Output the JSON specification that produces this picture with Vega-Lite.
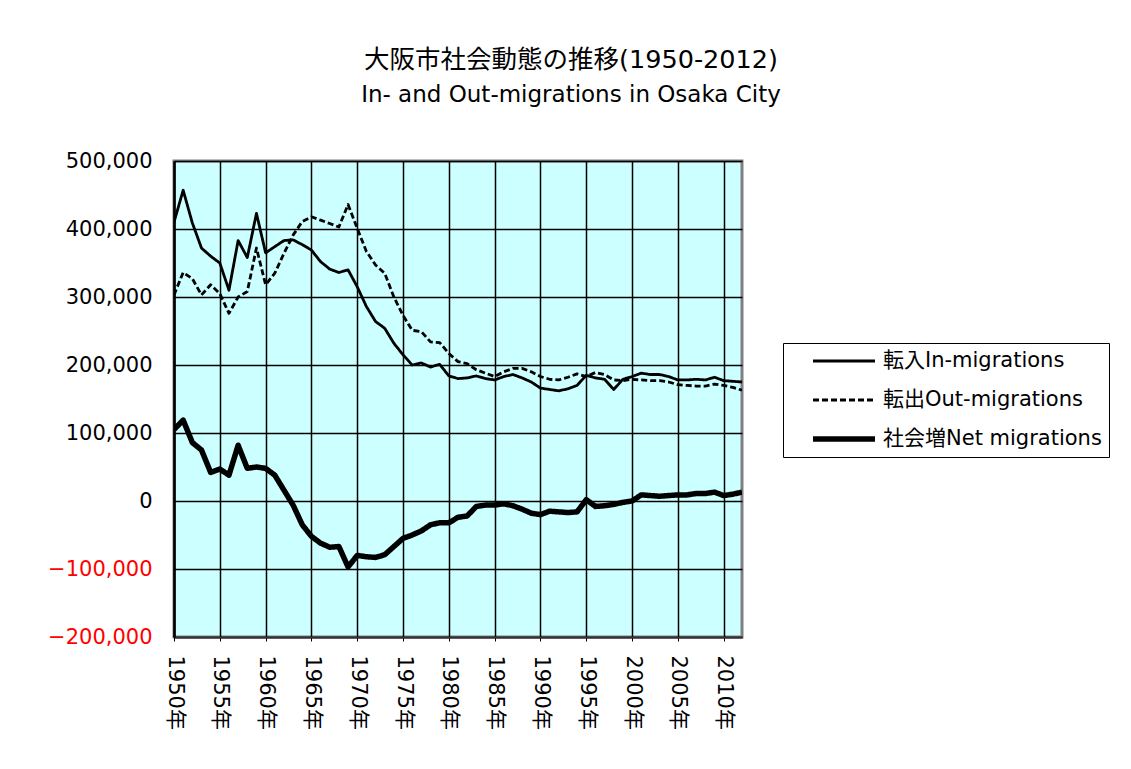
{
  "$schema": "https://vega.github.io/schema/vega-lite/v6.json",
  "width": 568,
  "height": 476,
  "autosize": {"type": "none"},
  "padding": {"left": 174, "top": 161, "right": 389, "bottom": 132},
  "background": "white",
  "title": {
    "text": "大阪市社会動態の推移(1950-2012)",
    "subtitle": "In- and Out-migrations in Osaka City",
    "anchor": "middle",
    "dx": 113,
    "offset": 43,
    "font": "DejaVu Sans, Noto Sans CJK JP",
    "fontSize": 25.5,
    "fontWeight": "normal",
    "color": "black",
    "subtitleFont": "DejaVu Sans, Noto Sans CJK JP",
    "subtitleFontSize": 23,
    "subtitleColor": "black",
    "subtitlePadding": 11
  },
  "config": {
    "view": {"fill": "#CCFFFF", "stroke": "#808080", "strokeWidth": 3},
    "font": "DejaVu Sans, Noto Sans CJK JP"
  },
  "data": {
    "values": [
      {"year": 1950, "in": 410000, "out": 303000, "net": 105000},
      {"year": 1951, "in": 457000, "out": 336000, "net": 119000},
      {"year": 1952, "in": 409000, "out": 327000, "net": 86000},
      {"year": 1953, "in": 372000, "out": 303000, "net": 75000},
      {"year": 1954, "in": 360000, "out": 318000, "net": 42000},
      {"year": 1955, "in": 350000, "out": 305000, "net": 47000},
      {"year": 1956, "in": 310000, "out": 276000, "net": 38000},
      {"year": 1957, "in": 383000, "out": 300000, "net": 82000},
      {"year": 1958, "in": 358000, "out": 308000, "net": 48000},
      {"year": 1959, "in": 423000, "out": 372000, "net": 50000},
      {"year": 1960, "in": 365000, "out": 318000, "net": 48000},
      {"year": 1961, "in": 374000, "out": 335000, "net": 38000},
      {"year": 1962, "in": 383000, "out": 364000, "net": 16000},
      {"year": 1963, "in": 384000, "out": 391000, "net": -6000},
      {"year": 1964, "in": 377000, "out": 411000, "net": -35000},
      {"year": 1965, "in": 369000, "out": 418000, "net": -52000},
      {"year": 1966, "in": 352000, "out": 413000, "net": -62000},
      {"year": 1967, "in": 341000, "out": 408000, "net": -68000},
      {"year": 1968, "in": 336000, "out": 403000, "net": -67000},
      {"year": 1969, "in": 340000, "out": 436000, "net": -97000},
      {"year": 1970, "in": 315000, "out": 401000, "net": -80000},
      {"year": 1971, "in": 286000, "out": 367000, "net": -82000},
      {"year": 1972, "in": 264000, "out": 347000, "net": -83000},
      {"year": 1973, "in": 254000, "out": 335000, "net": -79000},
      {"year": 1974, "in": 232000, "out": 300000, "net": -67000},
      {"year": 1975, "in": 215000, "out": 273000, "net": -55000},
      {"year": 1976, "in": 200000, "out": 251000, "net": -50000},
      {"year": 1977, "in": 203000, "out": 249000, "net": -44000},
      {"year": 1978, "in": 197000, "out": 234000, "net": -35000},
      {"year": 1979, "in": 201000, "out": 233000, "net": -32000},
      {"year": 1980, "in": 184000, "out": 217000, "net": -32000},
      {"year": 1981, "in": 180000, "out": 205000, "net": -24000},
      {"year": 1982, "in": 181000, "out": 202000, "net": -22000},
      {"year": 1983, "in": 184000, "out": 193000, "net": -8000},
      {"year": 1984, "in": 180000, "out": 188000, "net": -6000},
      {"year": 1985, "in": 178000, "out": 183000, "net": -6000},
      {"year": 1986, "in": 183000, "out": 190000, "net": -4000},
      {"year": 1987, "in": 186000, "out": 195000, "net": -7000},
      {"year": 1988, "in": 181000, "out": 195000, "net": -12000},
      {"year": 1989, "in": 175000, "out": 190000, "net": -18000},
      {"year": 1990, "in": 166000, "out": 183000, "net": -20000},
      {"year": 1991, "in": 164000, "out": 179000, "net": -15000},
      {"year": 1992, "in": 162000, "out": 178000, "net": -16000},
      {"year": 1993, "in": 165000, "out": 182000, "net": -17000},
      {"year": 1994, "in": 170000, "out": 187000, "net": -16000},
      {"year": 1995, "in": 185000, "out": 183000, "net": 2000},
      {"year": 1996, "in": 181000, "out": 189000, "net": -8000},
      {"year": 1997, "in": 179000, "out": 186000, "net": -7000},
      {"year": 1998, "in": 164000, "out": 178000, "net": -5000},
      {"year": 1999, "in": 179000, "out": 177000, "net": -2000},
      {"year": 2000, "in": 183000, "out": 179000, "net": 0},
      {"year": 2001, "in": 188000, "out": 178000, "net": 9000},
      {"year": 2002, "in": 186000, "out": 177000, "net": 8000},
      {"year": 2003, "in": 186000, "out": 177000, "net": 7000},
      {"year": 2004, "in": 183000, "out": 175000, "net": 8000},
      {"year": 2005, "in": 178000, "out": 171000, "net": 9000},
      {"year": 2006, "in": 178000, "out": 170000, "net": 9000},
      {"year": 2007, "in": 179000, "out": 169000, "net": 11000},
      {"year": 2008, "in": 178000, "out": 169000, "net": 11000},
      {"year": 2009, "in": 182000, "out": 172000, "net": 13000},
      {"year": 2010, "in": 177000, "out": 170000, "net": 8000},
      {"year": 2011, "in": 176000, "out": 167000, "net": 10000},
      {"year": 2012, "in": 175000, "out": 163000, "net": 13000}
    ]
  },
  "transform": [{"fold": ["in", "out", "net"], "as": ["series", "value"]}],
  "mark": {"type": "line", "color": "black", "strokeJoin": "round", "clip": true},
  "encoding": {
    "x": {
      "field": "year",
      "type": "quantitative",
      "scale": {"domain": [1950, 2012], "nice": false, "zero": false},
      "axis": {
        "title": null,
        "values": [1950, 1955, 1960, 1965, 1970, 1975, 1980, 1985, 1990, 1995, 2000, 2005, 2010],
        "labelExpr": "datum.value + '年'",
        "labelAngle": 90,
        "labelAlign": "left",
        "labelBaseline": "middle",
        "labelPadding": 14,
        "labelFontSize": 21,
        "labelColor": "black",
        "labelFont": "DejaVu Sans, Noto Sans CJK JP",
        "grid": true,
        "gridColor": "black",
        "gridWidth": 1.5,
        "gridOpacity": 1,
        "domain": true,
        "domainColor": "#333333",
        "domainWidth": 2,
        "ticks": true,
        "tickColor": "black",
        "tickSize": 4,
        "labelOverlap": false
      }
    },
    "y": {
      "field": "value",
      "type": "quantitative",
      "scale": {"domain": [-200000, 500000], "nice": false, "zero": false},
      "axis": {
        "title": null,
        "values": [-200000, -100000, 0, 100000, 200000, 300000, 400000, 500000],
        "format": ",d",
        "labelFontSize": 21,
        "labelFont": "DejaVu Sans, Noto Sans CJK JP",
        "labelColor": {"condition": {"test": "datum.value < 0", "value": "#FF0000"}, "value": "black"},
        "labelPadding": 22,
        "grid": true,
        "gridColor": "black",
        "gridWidth": 1.5,
        "gridOpacity": 1,
        "domain": true,
        "domainColor": "black",
        "domainWidth": 2.5,
        "ticks": false,
        "labelOverlap": false
      }
    },
    "strokeDash": {
      "field": "series",
      "type": "ordinal",
      "scale": {"type": "ordinal", "domain": ["in", "out", "net"], "range": [[1, 0], [6, 3], [1, 0]]},
      "legend": {
        "title": null,
        "orient": "none",
        "legendX": 609,
        "legendY": 182,
        "padding": 7,
        "strokeColor": "black",
        "fillColor": "white",
        "symbolType": "stroke",
        "symbolSize": 3844,
        "symbolOffset": 20,
        "symbolStrokeColor": "black",
        "labelFontSize": 21,
        "labelFont": "DejaVu Sans, Noto Sans CJK JP",
        "labelColor": "black",
        "labelOffset": 5,
        "labelLimit": 400,
        "clipHeight": 22,
        "rowPadding": 17,
        "labelExpr": "datum.label == 'in' ? '転入In-migrations' : datum.label == 'out' ? '転出Out-migrations' : '社会増Net migrations'"
      }
    },
    "strokeWidth": {
      "field": "series",
      "type": "ordinal",
      "scale": {"type": "ordinal", "domain": ["in", "out", "net"], "range": [2.8, 2.8, 5.5]},
      "legend": {
        "title": null,
        "orient": "none",
        "legendX": 609,
        "legendY": 182,
        "padding": 7,
        "strokeColor": "black",
        "fillColor": "white",
        "symbolType": "stroke",
        "symbolSize": 3844,
        "symbolOffset": 20,
        "symbolStrokeColor": "black",
        "labelFontSize": 21,
        "labelFont": "DejaVu Sans, Noto Sans CJK JP",
        "labelColor": "black",
        "labelOffset": 5,
        "labelLimit": 400,
        "clipHeight": 22,
        "rowPadding": 17,
        "labelExpr": "datum.label == 'in' ? '転入In-migrations' : datum.label == 'out' ? '転出Out-migrations' : '社会増Net migrations'"
      }
    }
  }
}
